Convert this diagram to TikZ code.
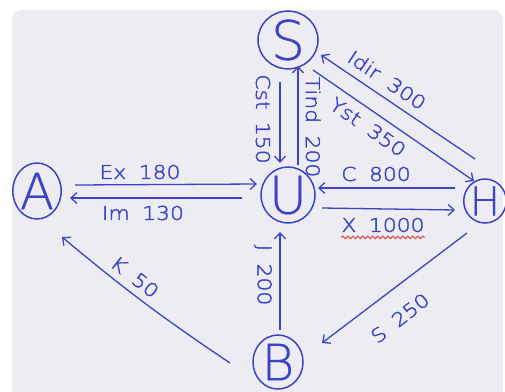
\documentclass[tikz,border=0pt]{standalone}
\usepackage{fontspec}
\setmainfont{Poppins}
\newfontfamily\thinf{DejaVu Sans ExtraLight}[FakeBold=0.6]
\newfontfamily\hand{DejaVu Sans ExtraLight}[FakeStretch=1.15,WordSpace=1.8,FakeBold=2]
\usetikzlibrary{arrows.meta,calc,decorations.pathmorphing,shapes.geometric}
\definecolor{pen}{HTML}{3A44C4}
\definecolor{paper}{HTML}{EDECF2}
\definecolor{redpen}{HTML}{E2524C}
\begin{document}
\begin{tikzpicture}[x=1pt,y=-1pt,
  state/.style={ellipse,draw=pen,line width=1.5pt,inner sep=0pt,text=pen},
  flow/.style={draw=pen,line width=1.3pt,-{Straight Barb[length=6pt,width=11pt,line width=1.3pt]}},
  lbl/.style={text=pen,font=\hand\fontsize{19}{19}\selectfont,inner sep=0pt},
  wavy/.style={draw=redpen,line width=1.1pt,decorate,decoration={snake,amplitude=1.3pt,segment length=5pt}}]
\useasboundingbox (0,0) rectangle (505,391);
\fill[white] (0,0) rectangle (505,391);
\fill[paper,rounded corners=10pt] (12,10) rectangle (503,410);
% states
\node[state,minimum width=60pt,minimum height=56pt,font=\thinf\fontsize{54}{54}\selectfont] (S) at (288,40) {S};
\node[state,minimum width=54pt,minimum height=56pt,font=\thinf\fontsize{52}{52}\selectfont] (U) at (288,195) {U};
\node[state,minimum width=48pt,minimum height=56pt,font=\thinf\fontsize{50}{50}\selectfont] (A) at (37,191) {A};
\node[state,minimum width=38pt,minimum height=44pt,font=\thinf\fontsize{40}{40}\selectfont] (H) at (485,201) {H};
\node[state,minimum width=50pt,minimum height=54pt,font=\thinf\fontsize{50}{50}\selectfont] (B) at (278,362) {B};
% flows
\draw[flow] ($(A)+(38,-6)$) -- ($(U)+(-31,-11)$);
\draw[flow] ($(U)+(-46,3)$) -- ($(A)+(33,7)$);
\draw[flow] ($(H)+(-30,-13)$) -- ($(U)+(30,-7)$);
\draw[flow] ($(U)+(34,13)$) -- ($(H)+(-30,9)$);
\draw[flow] ($(S)+(-8,42)$) -- ($(U)+(-8,-32)$);
\draw[flow] ($(U)+(10,-30)$) -- ($(S)+(10,26)$);
\draw[flow] ($(H)+(-10,-42)$) -- ($(S)+(33,15)$);
\draw[flow] ($(S)+(25,30)$) -- ($(H)+(-11,-20)$);
\draw[flow] ($(B)+(-48,1)$) to[bend left=3] ($(A)+(25,46)$);
\draw[flow] ($(B)+(2,-32)$) -- ($(U)+(-8,37)$);
\draw[flow] ($(H)+(-18,32)$) -- ($(B)+(44,-19)$);
% labels
\node[lbl] (lEx) at (140,172) {Ex 180};
\node[lbl] (lIm) at (143,213) {Im 130};
\node[lbl] (lC) at (376,174) {C 800};
\node[lbl] (lX) at (383,225) {X 1000};
\draw[wavy] ($(lX.south west)+(0,5)$) -- ($(lX.south east)+(0,5)$);
\node[lbl,rotate=-90] (lCst) at (263,119) {Cst 150};
\node[lbl,rotate=-90] (lTind) at (313,127) {Tind 200};
\node[lbl,rotate=-34] (lIdir) at (387,80) {Idir 300};
\node[lbl,rotate=-35] (lYst) at (368,127) {Yst 350};
\node[lbl,rotate=-38] (lK) at (135,277) {K 50};
\node[lbl,rotate=-90] (lJ) at (263,275) {J 200};
\node[lbl,rotate=38] (lS) at (400,318) {S 250};
\end{tikzpicture}
\end{document}
